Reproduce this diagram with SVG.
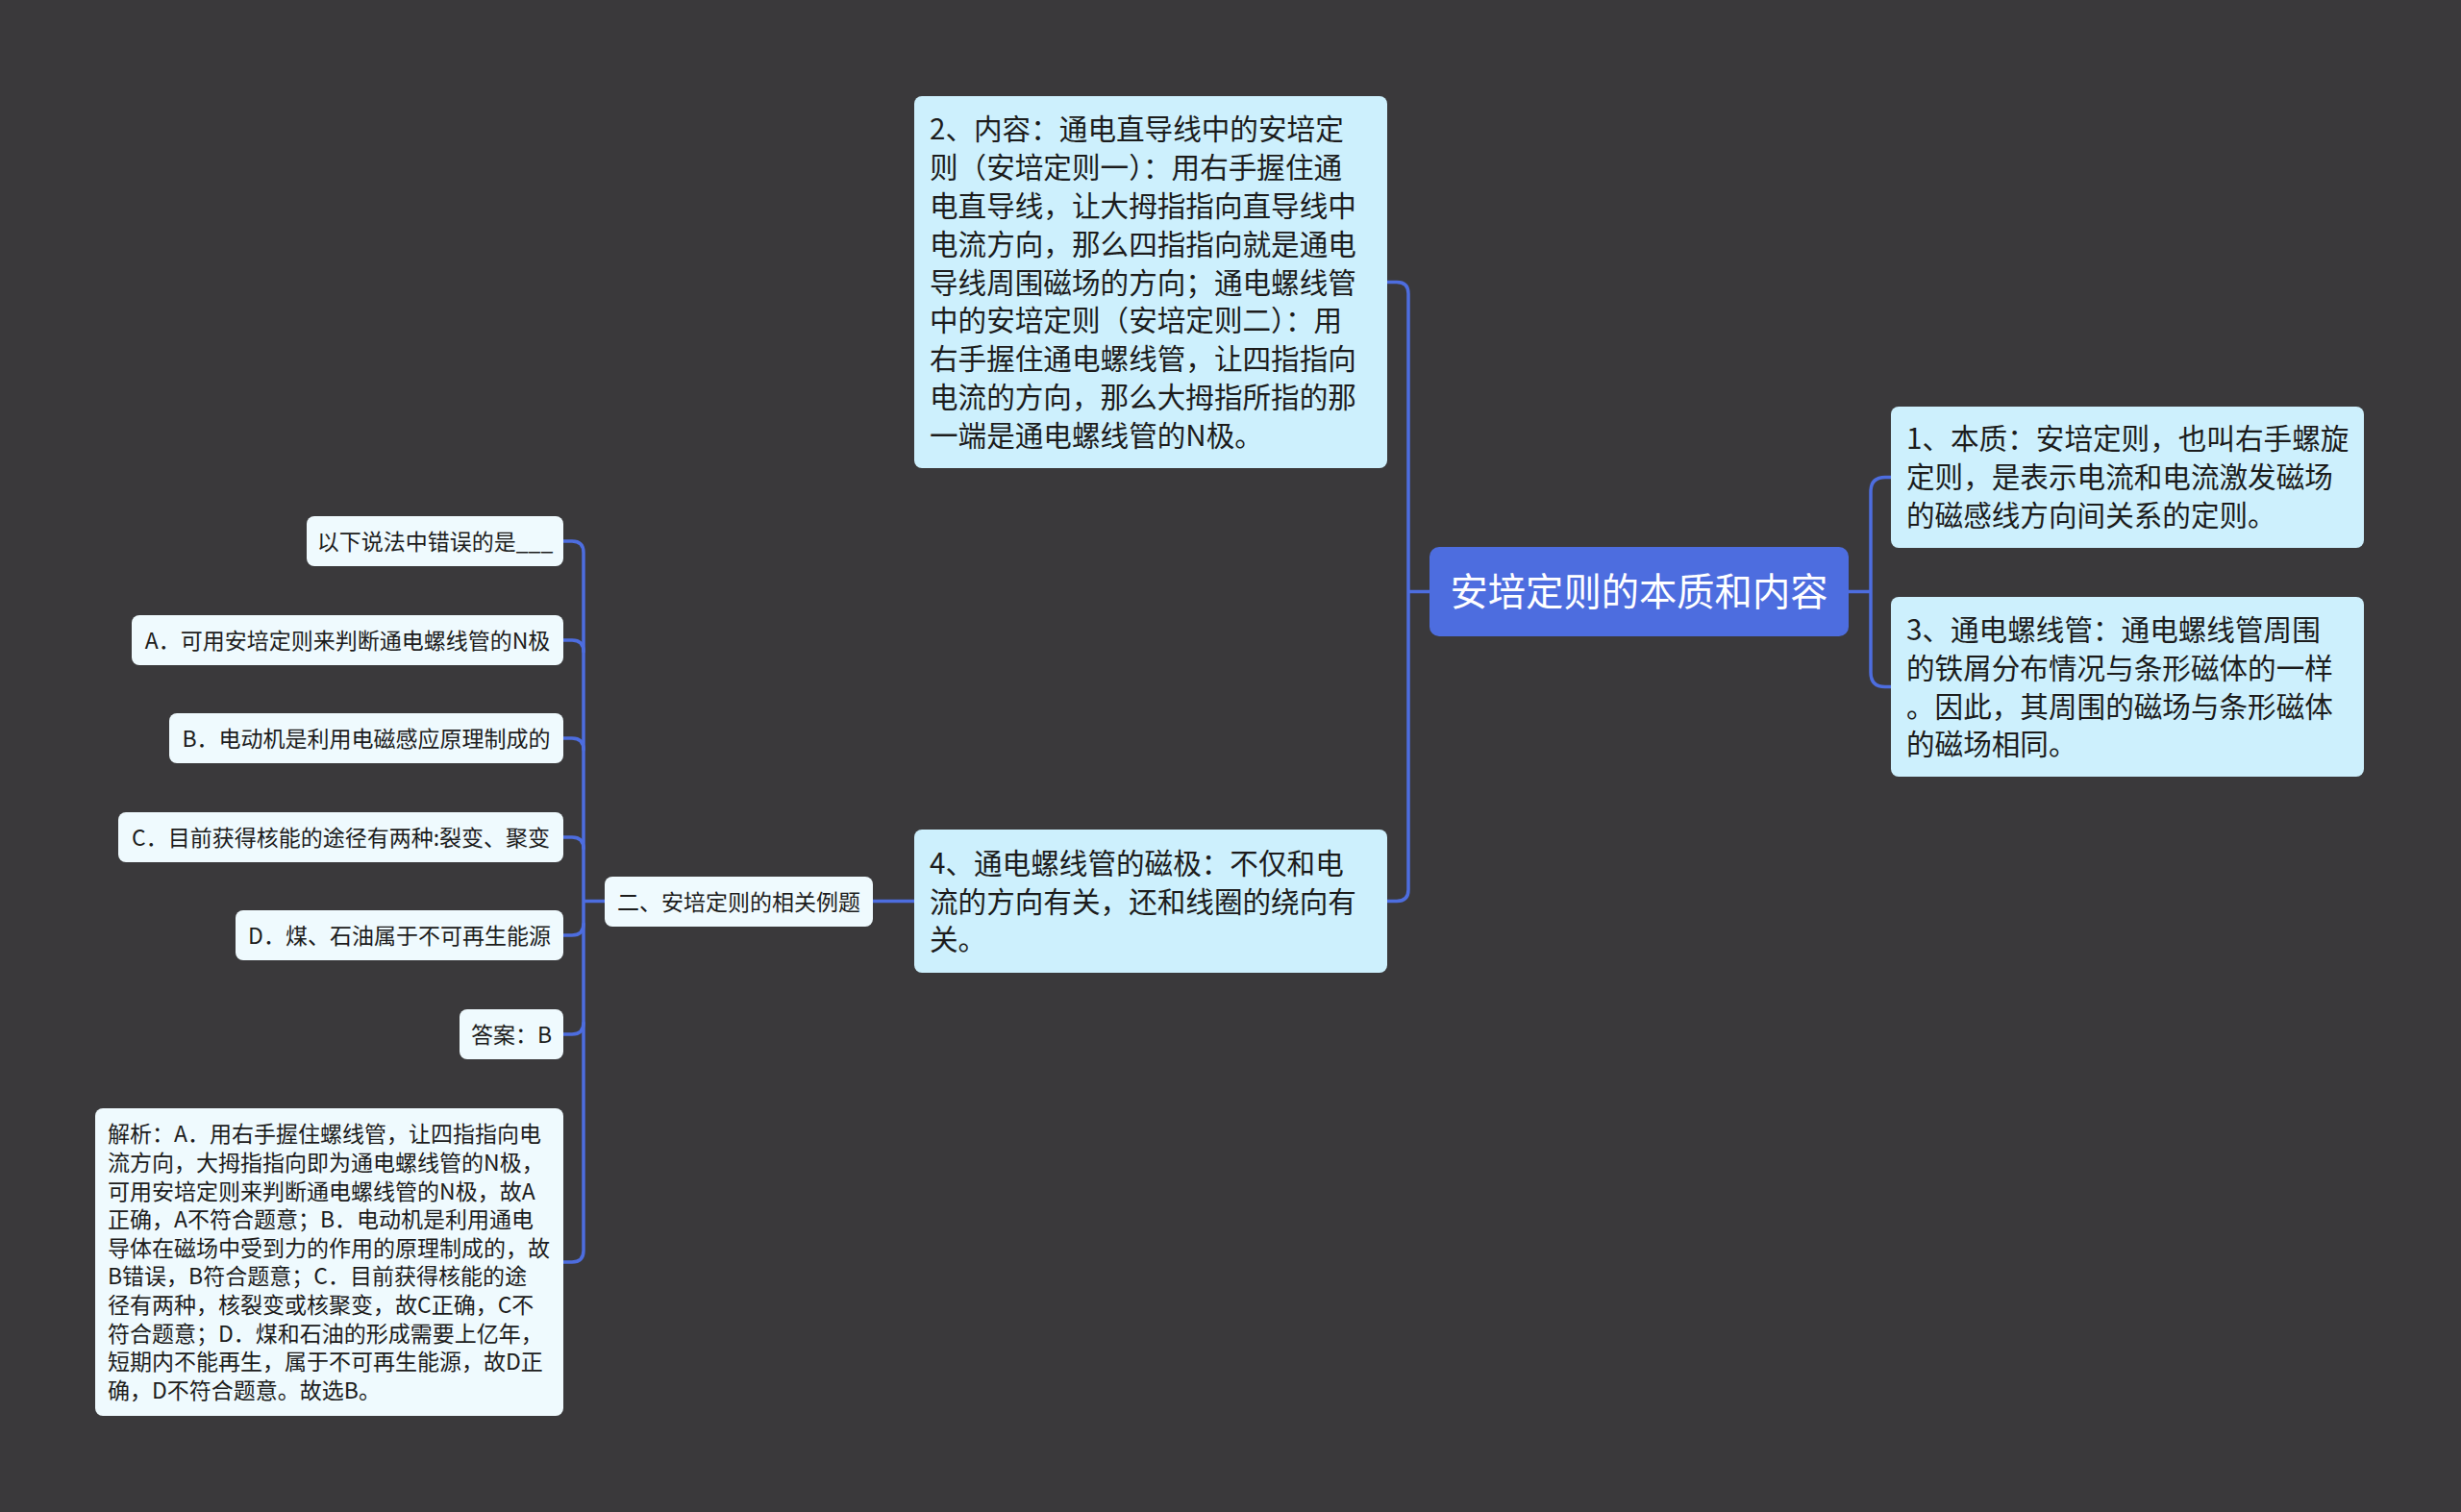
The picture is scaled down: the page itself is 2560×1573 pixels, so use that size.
<svg xmlns="http://www.w3.org/2000/svg" width="2560" height="1573" viewBox="0 0 2560 1573">
<style>
text{font-family:"Noto Sans CJK SC","Noto Sans",sans-serif;fill:#1c1c1c}
.big{font-size:29.6px}
.sm{font-size:23px}
.mid{text-anchor:middle}
.topic{fill:#cdf0fd}
.leaf{fill:#effafe}
.conn{fill:none;stroke:#4d6ddf;stroke-width:3.5;stroke-linecap:round}
</style>
<rect x="0" y="0" width="2560" height="1573" fill="#3a393b"/>
<g id="connectors">
<path class="conn" d="M1923,615.5 H1946 M1967,496.5 H1961 Q1946,496.5 1946,511.5 V699.5 Q1946,714.5 1961,714.5 H1967"/>
<path class="conn" d="M1487,615.5 H1465 M1443,293.5 H1453 Q1465,293.5 1465,305.5 V925.5 Q1465,937.5 1453,937.5 H1443"/>
<path class="conn" d="M951,937.5 H908"/>
<path class="conn" d="M629,937.5 H607 M586,563 H595 Q607,563 607,575 V1301 Q607,1313 595,1313 H586"/>
<path class="conn" d="M586,666 H595 Q607,666 607,678"/>
<path class="conn" d="M586,768 H595 Q607,768 607,780"/>
<path class="conn" d="M586,871 H595 Q607,871 607,883"/>
<path class="conn" d="M586,973 H595 Q607,973 607,961"/>
<path class="conn" d="M586,1076 H595 Q607,1076 607,1064"/>
</g>
<g id="root">
<rect x="1487" y="569" width="436" height="93" rx="10" fill="#4d6ddf"/>
<text x="1705" y="630" class="mid" style="font-size:39.3px;fill:#ffffff">安培定则的本质和内容</text>
</g>
<g id="node-essence">
<rect class="topic" x="1967" y="423" width="492" height="147" rx="8"/>
<text class="big" x="1983"><tspan x="1983" y="467">1、本质：安培定则，也叫右手螺旋</tspan><tspan x="1983" y="507">定则，是表示电流和电流激发磁场</tspan><tspan x="1983" y="547">的磁感线方向间关系的定则。</tspan></text>
</g>
<g id="node-solenoid">
<rect class="topic" x="1967" y="621" width="492" height="187" rx="8"/>
<text class="big" x="1983"><tspan x="1983" y="666">3、通电螺线管：通电螺线管周围</tspan><tspan x="1983" y="705.8">的铁屑分布情况与条形磁体的一样</tspan><tspan x="1983" y="745.6">。因此，其周围的磁场与条形磁体</tspan><tspan x="1983" y="785.4">的磁场相同。</tspan></text>
</g>
<g id="node-content">
<rect class="topic" x="951" y="100" width="492" height="387" rx="8"/>
<text class="big" x="967"><tspan x="967" y="145.3">2、内容：通电直导线中的安培定</tspan><tspan x="967" y="185.1">则（安培定则一）：用右手握住通</tspan><tspan x="967" y="224.9">电直导线，让大拇指指向直导线中</tspan><tspan x="967" y="264.7">电流方向，那么四指指向就是通电</tspan><tspan x="967" y="304.5">导线周围磁场的方向；通电螺线管</tspan><tspan x="967" y="344.3">中的安培定则（安培定则二）：用</tspan><tspan x="967" y="384.1">右手握住通电螺线管，让四指指向</tspan><tspan x="967" y="423.9">电流的方向，那么大拇指所指的那</tspan><tspan x="967" y="463.7">一端是通电螺线管的N极。</tspan></text>
</g>
<g id="node-poles">
<rect class="topic" x="951" y="863" width="492" height="149" rx="8"/>
<text class="big" x="967"><tspan x="967" y="908.7">4、通电螺线管的磁极：不仅和电</tspan><tspan x="967" y="948.5">流的方向有关，还和线圈的绕向有</tspan><tspan x="967" y="988.3">关。</tspan></text>
</g>
<g id="node-examples">
<rect class="leaf" x="629" y="912" width="279" height="52" rx="8"/>
<text class="sm mid" x="768.5" y="946.5">二、安培定则的相关例题</text>
</g>
<g id="node-question">
<rect class="leaf" x="319" y="537" width="267" height="52" rx="8"/>
<text class="sm mid" x="452.5" y="571.5">以下说法中错误的是___</text>
</g>
<g id="node-a">
<rect class="leaf" x="137" y="640" width="449" height="52" rx="8"/>
<text class="sm mid" x="361.5" y="674.5">A．可用安培定则来判断通电螺线管的N极</text>
</g>
<g id="node-b">
<rect class="leaf" x="176" y="742" width="410" height="52" rx="8"/>
<text class="sm mid" x="381" y="776.5">B．电动机是利用电磁感应原理制成的</text>
</g>
<g id="node-c">
<rect class="leaf" x="123" y="845" width="463" height="52" rx="8"/>
<text class="sm mid" x="354.5" y="879.5">C．目前获得核能的途径有两种:裂变、聚变</text>
</g>
<g id="node-d">
<rect class="leaf" x="245" y="947" width="341" height="52" rx="8"/>
<text class="sm mid" x="415.5" y="981.5">D．煤、石油属于不可再生能源</text>
</g>
<g id="node-answer">
<rect class="leaf" x="478" y="1050" width="108" height="52" rx="8"/>
<text class="sm mid" x="532" y="1084.5">答案：B</text>
</g>
<g id="node-analysis">
<rect class="leaf" x="99" y="1153" width="487" height="320" rx="8"/>
<text class="sm" x="112"><tspan x="112" y="1188.3">解析：A．用右手握住螺线管，让四指指向电</tspan><tspan x="112" y="1217.9">流方向，大拇指指向即为通电螺线管的N极，</tspan><tspan x="112" y="1247.5">可用安培定则来判断通电螺线管的N极，故A</tspan><tspan x="112" y="1277.1">正确，A不符合题意；B．电动机是利用通电</tspan><tspan x="112" y="1306.7">导体在磁场中受到力的作用的原理制成的，故</tspan><tspan x="112" y="1336.3">B错误，B符合题意；C．目前获得核能的途</tspan><tspan x="112" y="1365.9">径有两种，核裂变或核聚变，故C正确，C不</tspan><tspan x="112" y="1395.5">符合题意；D．煤和石油的形成需要上亿年，</tspan><tspan x="112" y="1425.1">短期内不能再生，属于不可再生能源，故D正</tspan><tspan x="112" y="1454.7">确，D不符合题意。故选B。</tspan></text>
</g>
</svg>
